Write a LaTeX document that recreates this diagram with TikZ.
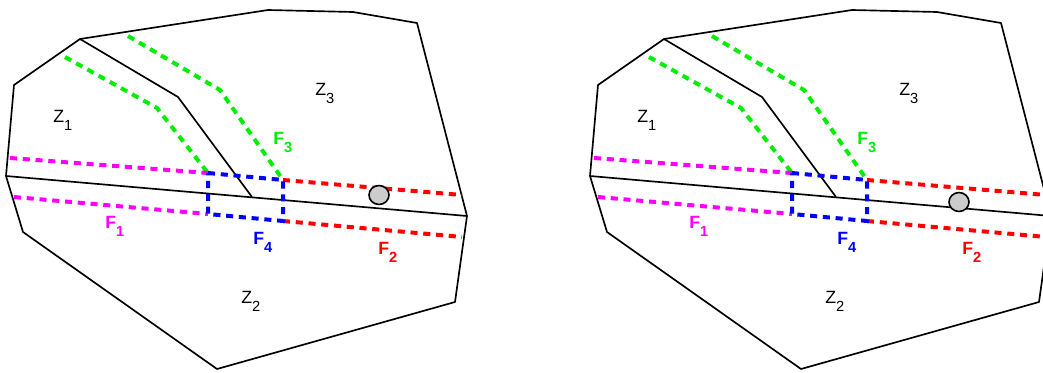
\documentclass[tikz,border=0pt]{standalone}
\usepackage{fontspec}
\setmainfont{Liberation Sans}
\definecolor{fmag}{RGB}{255,0,255}
\definecolor{fgreen}{RGB}{0,238,0}
\definecolor{fblue}{RGB}{0,0,255}
\definecolor{fred}{RGB}{255,0,0}
\newcommand{\lowidx}[1]{\raisebox{-0.5em}{\fontsize{11}{12}\selectfont #1}}
\tikzset{
  border/.style={line width=1.25pt,line join=round},
  fline/.style={line width=3pt,dash pattern=on 5.3pt off 4.3pt},
  zlabel/.style={anchor=base west,inner sep=0pt,font=\fontsize{13.3}{15}\selectfont},
  flabel/.style={anchor=base west,inner sep=0pt,font=\fontsize{13.3}{15}\selectfont\bfseries},
}
\begin{document}
\begin{tikzpicture}[x=0.75pt,y=-0.75pt]
  \useasboundingbox (0,0) rectangle (1043,372);
  \clip (0,0) rectangle (1043,372);

  \foreach \dx/\px/\py/\i in {0/379/195/1,584/375/202/2}{
    \begin{scope}[shift={(\dx,0)}]
      \coordinate (apex\i) at (80,39);
      \coordinate (west\i) at (6,176);
      \coordinate (east\i) at (467,216);
      \coordinate (knee\i) at (178,97);
      \coordinate (foot\i) at (252,197);
      \coordinate (nw\i) at (208,173);
      \coordinate (ne\i) at (283,180);
      \coordinate (se\i) at (283,221);
      \coordinate (sw\i) at (208,214);

      \draw[border] (apex\i) -- (268,10) -- (353,12) -- (417,23) -- (east\i) -- (455,302)
        -- (217,369) -- (23,232) -- (west\i) -- (14,85) -- cycle;
      \draw[border] (west\i) -- (east\i);
      \draw[border] (apex\i) -- (knee\i) -- (foot\i);

      \draw[fline,fgreen] (65,57) -- (157,108) -- (nw\i);
      \draw[fline,fgreen] (128,36) -- (220,90) -- (ne\i);
      \draw[fline,fmag] (10,158) -- (nw\i);
      \draw[fline,fmag] (14,197) -- (sw\i);
      \draw[fline,fred] (ne\i) -- (462,195);
      \draw[fline,fred] (se\i) -- (462,237);
      \draw[fline,fblue] (nw\i) -- (ne\i) -- (se\i) -- (sw\i) -- cycle;

      \draw[line width=1.2pt,fill=black!20] (\px,\py) ellipse [x radius=7.5pt,y radius=7.1pt];

      \node[zlabel] (z1-\i) at (53,122) {Z\lowidx{1}};
      \node[zlabel] (z3-\i) at (315,95) {Z\lowidx{3}};
      \node[zlabel] (z2-\i) at (241,303) {Z\lowidx{2}};
      \node[flabel,text=fgreen] (f3-\i) at (273,144) {F\lowidx{3}};
      \node[flabel,text=fmag] (f1-\i) at (105,228) {F\lowidx{1}};
      \node[flabel,text=fblue] (f4-\i) at (253,244) {F\lowidx{4}};
      \node[flabel,text=fred] (f2-\i) at (378,254) {F\lowidx{2}};
    \end{scope}
  }
\end{tikzpicture}
\end{document}
